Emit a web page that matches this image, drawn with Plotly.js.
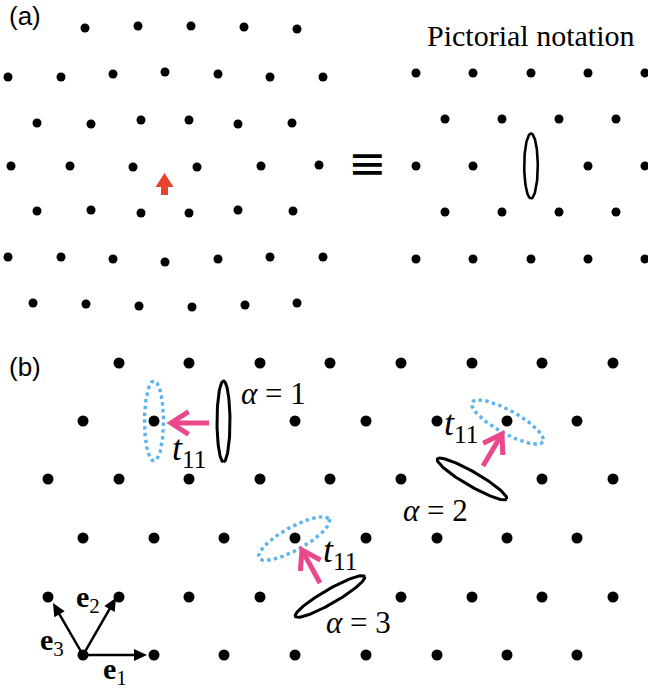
<!DOCTYPE html>
<html>
<head>
<meta charset="utf-8">
<script src="https://cdn.plot.ly/plotly-3.0.1.min.js"></script>
<style>
  html, body { margin: 0; padding: 0; background: #ffffff; }
  #fig { width: 648px; height: 692px; }
</style>
</head>
<body>
<div id="fig"></div>
<script>
// Panel (a), left: lattice sites distorted around the central spin
const siteAX = [85,138,191,244,297,
                8,61,113,165,218,270,323,
                37,91,141,189,238,292,
                11,70,133,197,261,319,
                37,91,141,189,238,293,
                8,61,113,165,218,270,323,
                33,86,139,192,245,297];
const siteAY = [28,26,26,27,29,
                77,77,74,72,74,77,77,
                123,124,120,120,124,123,
                166,166,167,167,166,165,
                211,210,213,213,210,211,
                257,257,259,262,259,257,257,
                303,304,306,307,305,303];
// spin arrow at the centre of panel (a)
const spinTip = [164.5, 173];

// Panel (a), right: undistorted lattice in pictorial notation
const siteRX = [416,473,531,588,645,
                445,502,559,616,
                416,473,588,645,
                445,502,559,616,
                416,473,531,588,645];
const siteRY = [73,73,73,73,73,
                119,119,119,119,
                166,166,166,166,
                212,212,212,212,
                259,259,259,259,259];
const notationEllipse = {cx: 531, cy: 166, a: 32.5, b: 6.8, angle: 90};

// Panel (b): triangular lattice
const siteBX = [119,189,260,330,401,472,542,613,
                83,154,295,366,437,507,577,
                48,119,189,260,330,401,542,613,
                83,154,224,295,366,437,507,577,
                48,119,189,260,401,472,542,613,
                83,154,224,295,366,437,507,577];
const siteBY = [363,363,363,363,363,363,363,363,
                421,421,421,421,421,421,421,
                479,479,479,479,479,479,479,479,
                538,538,538,538,538,538,538,538,
                597,597,597,597,597,597,597,597,
                655,655,655,655,655,655,655,655];

// orbital ellipses alpha = 1, 2, 3
const alphaLabels = ["1", "2", "3"];
const orbCX = [223.5, 472, 330];
const orbCY = [421.5, 479, 596.5];
const orbAngle = [90, 30, -30];
const orbA = [40.5, 40, 40];
const orbB = [6.5, 7, 7];
const alphaLabelX = [273, 435, 358];
const alphaLabelY = [393, 510, 622];

// dotted target orbitals for hopping t11
const tgtCX = [154, 507.5, 294];
const tgtCY = [421, 422, 538.5];
const tgtAngle = [90, 29, -29];
const tgtA = [40, 40.5, 40];
const tgtB = [9.5, 11.5, 11.5];

// hopping arrows t11
const hopTailX = [209, 483, 320];
const hopTailY = [423, 466, 583];
const hopTipX = [171, 502, 302];
const hopTipY = [423, 434, 550];
const hopLabelX = [170, 442, 321];
const hopLabelY = [450, 425, 552];

// primitive vectors e1, e2, e3
const vecOrigin = [83, 655];
const vecAngle = [0, 60, 120];
const vecLen = [64, 66, 60];
const vecNames = ["1", "2", "3"];
const vecLabelX = [101, 74, 38];
const vecLabelY = [671, 599, 642];

const BLUE = "#5ab4f0";
const PINK = "#e9488c";
const RED = "#e9432b";
const SERIF = "Liberation Serif";
const SANS = "Liberation Sans";

function ellipse(cx, cy, a, b, angDeg) {
  const t = angDeg * Math.PI / 180, xs = [], ys = [];
  for (let i = 0; i <= 160; i++) {
    const p = 2 * Math.PI * i / 160;
    const u = a * Math.cos(p), v = b * Math.sin(p);
    xs.push(cx + u * Math.cos(t) - v * Math.sin(t));
    ys.push(cy + u * Math.sin(t) + v * Math.cos(t));
  }
  return {x: xs, y: ys};
}

const traces = [];
const skip = {hoverinfo: "skip", showlegend: false};

traces.push(Object.assign({type: "scatter", mode: "markers", x: siteAX, y: siteAY,
  marker: {size: 9, color: "#000"}}, skip));
traces.push(Object.assign({type: "scatter", mode: "markers", x: siteRX, y: siteRY,
  marker: {size: 9, color: "#000"}}, skip));
traces.push(Object.assign({type: "scatter", mode: "markers", x: siteBX, y: siteBY,
  marker: {size: 11, color: "#000"}}, skip));

// block arrow for the spin
(function () {
  const [tx, ty] = spinTip, hl = 14, hw = 9, sw = 3.5, sl = 8;
  traces.push(Object.assign({type: "scatter", mode: "lines", fill: "toself", fillcolor: RED,
    line: {width: 0, color: RED},
    x: [tx, tx + hw, tx + sw, tx + sw, tx - sw, tx - sw, tx - hw, tx],
    y: [ty, ty + hl, ty + hl, ty + hl + sl, ty + hl + sl, ty + hl, ty + hl, ty]}, skip));
})();

const ne = ellipse(notationEllipse.cx, notationEllipse.cy, notationEllipse.a,
                   notationEllipse.b, notationEllipse.angle);
traces.push(Object.assign({type: "scatter", mode: "lines", x: ne.x, y: ne.y,
  line: {color: "#000", width: 2.6}}, skip));

for (let i = 0; i < 3; i++) {
  const e = ellipse(orbCX[i], orbCY[i], orbA[i], orbB[i], orbAngle[i]);
  traces.push(Object.assign({type: "scatter", mode: "lines", x: e.x, y: e.y,
    line: {color: "#000", width: 3}}, skip));
  const d = ellipse(tgtCX[i], tgtCY[i], tgtA[i], tgtB[i], tgtAngle[i]);
  traces.push(Object.assign({type: "scatter", mode: "lines", x: d.x, y: d.y,
    line: {color: BLUE, width: 3.4, dash: "dot"}}, skip));
}

// pink hopping arrows: thick shaft with an open chevron head
for (let i = 0; i < 3; i++) {
  const dx = hopTipX[i] - hopTailX[i], dy = hopTipY[i] - hopTailY[i];
  const L = Math.hypot(dx, dy), ux = dx / L, uy = dy / L;
  const arm = 21, half = 33 * Math.PI / 180;
  const tipX = hopTipX[i], tipY = hopTipY[i];
  const c = Math.cos(half), s = Math.sin(half);
  const a1x = tipX - arm * (ux * c - uy * s), a1y = tipY - arm * (uy * c + ux * s);
  const a2x = tipX - arm * (ux * c + uy * s), a2y = tipY - arm * (uy * c - ux * s);
  traces.push(Object.assign({type: "scatter", mode: "lines",
    x: [hopTailX[i], tipX - 3 * ux], y: [hopTailY[i], tipY - 3 * uy],
    line: {color: PINK, width: 5}}, skip));
  traces.push(Object.assign({type: "scatter", mode: "lines",
    x: [a1x, tipX, a2x], y: [a1y, tipY, a2y],
    line: {color: PINK, width: 5}}, skip));
}

// primitive vectors: thin shaft with a filled triangular head
for (let i = 0; i < 3; i++) {
  const r = vecAngle[i] * Math.PI / 180;
  const ux = Math.cos(r), uy = -Math.sin(r);
  const tipX = vecOrigin[0] + vecLen[i] * ux, tipY = vecOrigin[1] + vecLen[i] * uy;
  const hl = 13, hw = 6;
  const bx = tipX - hl * ux, by = tipY - hl * uy;
  traces.push(Object.assign({type: "scatter", mode: "lines",
    x: [vecOrigin[0], bx + 2 * ux], y: [vecOrigin[1], by + 2 * uy],
    line: {color: "#000", width: 2.5}}, skip));
  traces.push(Object.assign({type: "scatter", mode: "lines", fill: "toself", fillcolor: "#000",
    x: [tipX, bx - hw * uy, bx + hw * uy, tipX],
    y: [tipY, by + hw * ux, by - hw * ux, tipY],
    line: {color: "#000", width: 0}}, skip));
}

const ann = [];
ann.push({x: 24.5, y: 16, text: "(a)", font: {family: SANS, size: 26, color: "#000"}});
ann.push({x: 24.5, y: 367, text: "(b)", font: {family: SANS, size: 26, color: "#000"}});
ann.push({x: 530, y: 35, text: "Pictorial notation", font: {family: SERIF, size: 30, color: "#000"}});
ann.push({x: 367, y: 163, text: "\u2261", font: {family: "DejaVu Sans", size: 46, color: "#000"}});

for (let i = 0; i < 3; i++) {
  ann.push({x: alphaLabelX[i], y: alphaLabelY[i],
    text: "<i>\u03b1</i> = " + alphaLabels[i],
    font: {family: SERIF, size: 31, color: "#000"}});
  ann.push({x: hopLabelX[i], y: hopLabelY[i], xanchor: "left",
    text: "<i>t</i><sub>11</sub>",
    font: {family: SERIF, size: 36, color: "#000"}});
  ann.push({x: vecLabelX[i], y: vecLabelY[i], xanchor: "left",
    text: "<b>e</b><sub>" + vecNames[i] + "</sub>",
    font: {family: SERIF, size: 30, color: "#000"}});
}
ann.forEach(a => { a.xref = "x"; a.yref = "y"; a.showarrow = false; });

const layout = {
  width: 648, height: 692,
  margin: {l: 0, r: 0, t: 0, b: 0},
  paper_bgcolor: "#fff", plot_bgcolor: "#fff",
  showlegend: false,
  xaxis: {range: [0, 648], visible: false, fixedrange: true},
  yaxis: {range: [692, 0], visible: false, fixedrange: true},
  annotations: ann
};

Plotly.newPlot("fig", traces, layout, {staticPlot: true, displayModeBar: false});
</script>
</body>
</html>
